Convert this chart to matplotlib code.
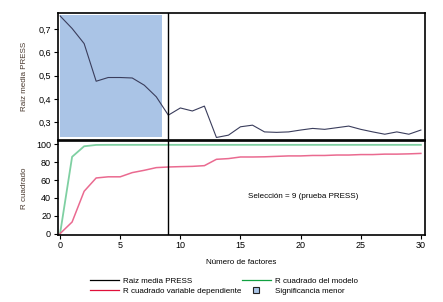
import matplotlib
matplotlib.use('Agg')
import matplotlib.pyplot as plt
from matplotlib.lines import Line2D
import numpy as np

plt.rcParams['font.family'] = ['Liberation Sans', 'DejaVu Sans']
plt.rcParams['font.size'] = 6.5

factores = np.arange(0, 31)
press = [0.757, 0.703, 0.638, 0.476, 0.492, 0.492, 0.490, 0.459, 0.409, 0.330,
         0.361, 0.348, 0.369, 0.234, 0.244, 0.280, 0.287, 0.258, 0.256, 0.258,
         0.266, 0.273, 0.269, 0.276, 0.283, 0.269, 0.258, 0.248, 0.258, 0.248,
         0.266]
r2_modelo = [0, 86, 97.8, 99.3, 99.4, 99.4, 99.4, 99.4, 99.4, 99.4,
             99.4, 99.4, 99.4, 99.4, 99.4, 99.4, 99.4, 99.4, 99.4, 99.4,
             99.4, 99.4, 99.4, 99.4, 99.4, 99.4, 99.4, 99.4, 99.4, 99.4,
             99.4]
r2_dep = [0, 13, 47.4, 62.3, 63.6, 63.6, 68.3, 70.9, 73.9, 74.6,
          75.0, 75.3, 76.1, 83.2, 84.0, 85.8, 85.8, 86.0, 86.5, 87.0,
          87.0, 87.5, 87.5, 88.0, 88.0, 88.5, 88.5, 89.0, 89.0, 89.3,
          89.8]
seleccion = 9
sig_x = [0, 8.5]
sig_lo = 0.234
sig_hi = 0.760

fig = plt.figure(figsize=(4.43, 3.02), dpi=100)
ax1 = fig.add_axes([0.131, 0.536, 0.828, 0.4205])
ax2 = fig.add_axes([0.131, 0.2235, 0.828, 0.3096])

ax1.fill_between(sig_x, sig_lo, sig_hi, color='#aac4e6', lw=0)
ax1.plot(factores, press, color='#3a3d5c', lw=0.8)
ax1.axvline(seleccion, color='black', lw=1)
ax1.set_xlim(-0.17, 30.33)
ax1.set_ylim(0.2226, 0.769)
ax1.set_yticks([0.3, 0.4, 0.5, 0.6, 0.7])
ax1.set_yticklabels(['0,3', '0,4', '0,5', '0,6', '0,7'])
ax1.set_xticks([])
ax1.set_ylabel('Raiz media PRESS', color='#4a3a30', fontsize=5.8)
ax1.yaxis.set_label_coords(-0.082, 0.5)

ax2.plot(factores, r2_modelo, color='#7fd0a2', lw=1.3)
ax2.plot(factores, r2_dep, color='#ea6a90', lw=1.1)
ax2.axvline(seleccion, color='black', lw=1)
ax2.set_xlim(-0.17, 30.33)
ax2.set_ylim(-1, 103.7)
ax2.set_yticks([0, 20, 40, 60, 80, 100])
ax2.set_xticks([0, 5, 10, 15, 20, 25, 30])
ax2.set_ylabel('R cuadrado', color='#4a3a30', fontsize=5.8)
ax2.yaxis.set_label_coords(-0.082, 0.5)
ax2.set_xlabel('Número de factores', fontsize=5.8, labelpad=6)
ax2.text(20.2, 42, 'Selección = 9 (prueba PRESS)', ha='center', va='center', fontsize=5.8)

for ax in (ax1, ax2):
    for s in ax.spines.values():
        s.set_linewidth(1.2)
    ax.tick_params(length=3, width=0.8, pad=2)

handles = [Line2D([], [], color='black', lw=0.9),
           Line2D([], [], color='#e0103a', lw=0.9),
           Line2D([], [], color='#10a040', lw=0.9),
           Line2D([], [], ls='', marker='s', markersize=5,
                  markerfacecolor='#aac4e6', markeredgecolor='#222222',
                  markeredgewidth=0.8)]
labels = ['Raiz media PRESS', 'R cuadrado variable dependiente',
          'R cuadrado del modelo', 'Significancia menor']
fig.legend(handles, labels, ncol=2, loc='center', bbox_to_anchor=(0.505, 0.053),
           frameon=False, fontsize=5.8, handlelength=3.6, handleheight=0.7,
           columnspacing=0.1, labelspacing=0.35, handletextpad=0.5)

fig.savefig('out.png', dpi=100)
